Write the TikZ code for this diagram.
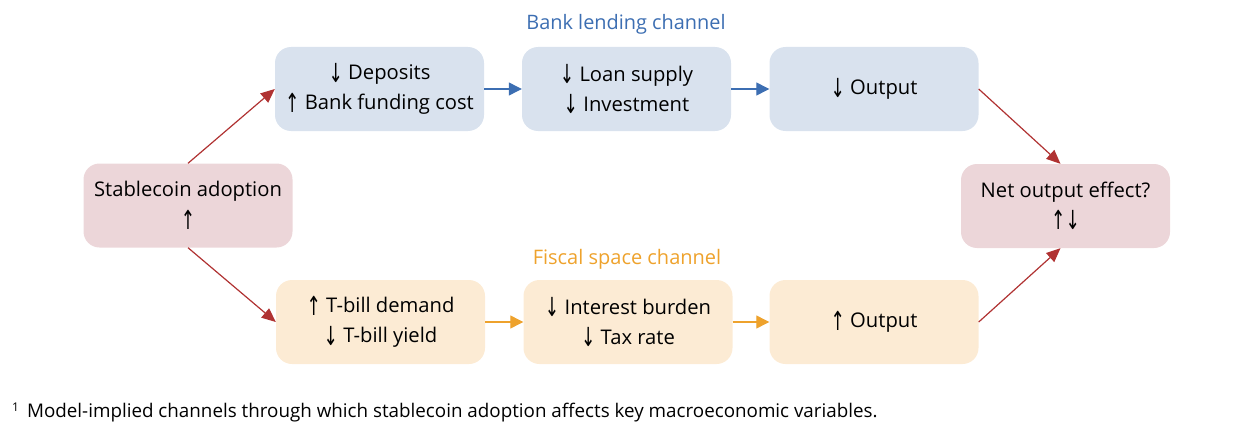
\documentclass[tikz,border=0pt]{standalone}
\usepackage{fontspec}
\usepackage{graphicx}
\setmainfont{Open Sans}
\newfontfamily\arr{DejaVu Sans}
\newcommand{\myup}{\raisebox{-2.5pt}{\scalebox{0.85}[1.3]{\arr↑}}}
\newcommand{\mydn}{\raisebox{-2.5pt}{\scalebox{0.85}[1.3]{\arr↓}}}
\usetikzlibrary{arrows.meta}
\definecolor{bluefill}{HTML}{D9E2EE}
\definecolor{pinkfill}{HTML}{ECD6D9}
\definecolor{beigefill}{HTML}{FCEBD4}
\definecolor{bluearr}{HTML}{3C6EB2}
\definecolor{orangearr}{HTML}{EEA22C}
\definecolor{redarr}{HTML}{B03232}
\tikzset{
  box/.style={rounded corners=16pt, minimum width=209pt, minimum height=84pt, align=center, inner sep=0pt, font=\fontsize{20.2}{30}\selectfont},
  bbox/.style={box, fill=bluefill},
  pbox/.style={box, fill=pinkfill},
  ybox/.style={box, fill=beigefill},
  redline/.style={draw=redarr, line width=1.2pt, -{Triangle[length=14pt,width=12pt]}},
  blueline/.style={draw=bluearr, line width=1.2pt, -{Triangle[length=13pt,width=13pt]}},
  orangeline/.style={draw=orangearr, line width=1.2pt, -{Triangle[length=13pt,width=13pt]}},
}
\begin{document}
\begin{tikzpicture}[x=1pt,y=-1pt]
\useasboundingbox (0,0) rectangle (1252,436);
\node[pbox] (sa) at (188,205.5) {Stablecoin adoption\\\myup};
\node[bbox] (dep) at (379.5,89) {\mydn\ Deposits\\\myup\ Bank funding cost};
\node[bbox] (loan) at (626.5,89) {\mydn\ Loan supply\\\mydn\ Investment};
\node[bbox] (outa) at (874,89) {\mydn\ Output};
\node[pbox] (net) at (1065.5,206) {Net output effect?\\\myup\mydn};
\node[ybox] (tb) at (380.5,322) {\myup\ T-bill demand\\\mydn\ T-bill yield};
\node[ybox] (ib) at (628,322) {\mydn\ Interest burden\\\mydn\ Tax rate};
\node[ybox] (outb) at (874,322) {\myup\ Output};
\node[text=bluearr, font=\fontsize{19.9}{22}\selectfont] (lb) at (626,24.5) {Bank lending channel};
\node[text=orangearr, font=\fontsize{20}{22}\selectfont] (lf) at (627,259) {Fiscal space channel};
\node[anchor=west, font=\fontsize{18.8}{20}\selectfont, inner sep=0pt] (fn) at (12,412) {\raisebox{6pt}{\fontsize{12}{12}\selectfont 1}\hspace{8pt}Model-implied channels through which stablecoin adoption affects key macroeconomic variables.};
\draw[redline] (sa.north) -- (dep.west);
\draw[redline] (sa.south) -- (tb.west);
\draw[blueline] (dep) -- (loan);
\draw[blueline] (loan) -- (outa);
\draw[orangeline] (tb) -- (ib);
\draw[orangeline] (ib) -- (outb);
\draw[redline] (outa.east) -- ([xshift=-5pt]net.north);
\draw[redline] (outb.east) -- ([xshift=-5pt]net.south);
\end{tikzpicture}
\end{document}
